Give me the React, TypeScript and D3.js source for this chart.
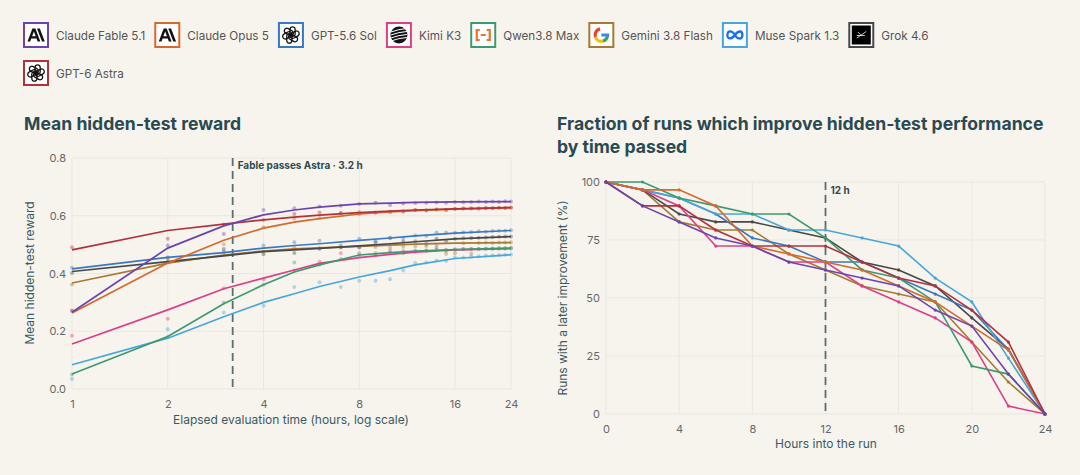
import * as d3 from "d3";
import { useEffect, useRef } from "react";

const W = 1080;
const H = 475;
const BG = "#f7f4ee";
const FONT = "Inter, 'Noto Sans', sans-serif";

const models = ["Claude Fable 5.1", "Claude Opus 5", "GPT-5.6 Sol", "Kimi K3", "Qwen3.8 Max", "Gemini 3.8 Flash", "Muse Spark 1.3", "Grok 4.6", "GPT-6 Astra"];
const colors = ["#6b44b0", "#d6692c", "#3b78c2", "#dd3f87", "#3d9a6e", "#a77a34", "#47a6dc", "#484848", "#b2323c"];
const logos = ["anthropic", "anthropic", "openai", "kimi", "qwen", "gemini", "meta", "grok", "openai"];

// left panel: fitted reward curve (sampled hours) + hourly observations
const fitHours = [1, 2, 3, 4, 5, 6, 8, 10, 12, 16, 24];
const fitFable = [0.266, 0.488, 0.565, 0.603, 0.62, 0.63, 0.641, 0.644, 0.646, 0.648, 0.649];
const fitOpus = [0.263, 0.436, 0.515, 0.557, 0.578, 0.59, 0.606, 0.613, 0.618, 0.623, 0.628];
const fitSol = [0.416, 0.456, 0.472, 0.488, 0.497, 0.503, 0.515, 0.523, 0.53, 0.54, 0.549];
const fitKimi = [0.156, 0.274, 0.347, 0.384, 0.412, 0.435, 0.455, 0.466, 0.474, 0.482, 0.486];
const fitQwen = [0.052, 0.182, 0.295, 0.361, 0.405, 0.43, 0.464, 0.472, 0.478, 0.483, 0.488];
const fitGemini = [0.367, 0.436, 0.464, 0.478, 0.485, 0.489, 0.494, 0.498, 0.502, 0.505, 0.507];
const fitMuse = [0.084, 0.176, 0.25, 0.3, 0.33, 0.355, 0.388, 0.41, 0.43, 0.452, 0.465];
const fitGrok = [0.407, 0.441, 0.461, 0.476, 0.482, 0.487, 0.496, 0.503, 0.51, 0.52, 0.528];
const fitAstra = [0.482, 0.549, 0.571, 0.586, 0.595, 0.602, 0.611, 0.616, 0.62, 0.624, 0.628];

const obsHours = d3.range(1, 25);
const obsFable = [0.27, 0.497, 0.537, 0.62, 0.626, 0.632, 0.635, 0.641, 0.645, 0.637, 0.642, 0.644, 0.645, 0.646, 0.645, 0.648, 0.647, 0.648, 0.649, 0.648, 0.649, 0.648, 0.65, 0.649];
const obsOpus = [0.272, 0.44, 0.501, 0.56, 0.59, 0.592, 0.608, 0.605, 0.61, 0.612, 0.615, 0.62, 0.619, 0.622, 0.621, 0.623, 0.625, 0.624, 0.626, 0.626, 0.627, 0.628, 0.627, 0.629];
const obsSol = [0.42, 0.452, 0.476, 0.497, 0.508, 0.513, 0.498, 0.52, 0.512, 0.525, 0.52, 0.532, 0.53, 0.542, 0.542, 0.541, 0.543, 0.544, 0.546, 0.545, 0.547, 0.548, 0.548, 0.55];
const obsKimi = [0.184, 0.243, 0.349, 0.38, 0.41, 0.441, 0.47, 0.47, 0.462, 0.48, 0.478, 0.475, 0.48, 0.49, 0.48, 0.482, 0.484, 0.484, 0.485, 0.485, 0.486, 0.486, 0.486, 0.487];
const obsQwen = [0.05, 0.18, 0.3, 0.361, 0.438, 0.43, 0.45, 0.462, 0.47, 0.472, 0.47, 0.48, 0.479, 0.482, 0.482, 0.484, 0.485, 0.486, 0.486, 0.487, 0.487, 0.488, 0.488, 0.489];
const obsGemini = [0.362, 0.44, 0.472, 0.475, 0.49, 0.488, 0.491, 0.49, 0.492, 0.49, 0.493, 0.494, 0.495, 0.5, 0.468, 0.47, 0.505, 0.468, 0.506, 0.507, 0.506, 0.507, 0.507, 0.508];
const obsMuse = [0.035, 0.207, 0.265, 0.288, 0.353, 0.37, 0.353, 0.375, 0.375, 0.38, 0.41, 0.436, 0.438, 0.445, 0.443, 0.455, 0.455, 0.458, 0.46, 0.462, 0.463, 0.464, 0.465, 0.466];
const obsGrok = [0.402, 0.455, 0.485, 0.467, 0.471, 0.486, 0.49, 0.492, 0.508, 0.522, 0.51, 0.512, 0.503, 0.52, 0.512, 0.52, 0.522, 0.523, 0.524, 0.525, 0.526, 0.527, 0.528, 0.528];
const obsAstra = [0.491, 0.52, 0.57, 0.585, 0.606, 0.611, 0.61, 0.612, 0.611, 0.614, 0.615, 0.62, 0.618, 0.622, 0.62, 0.624, 0.625, 0.626, 0.624, 0.627, 0.626, 0.628, 0.627, 0.628];

// right panel: % of runs that still improve later
const runHours = d3.range(0, 25, 2);
const runFable = [100, 89.7, 82.8, 75.9, 72.4, 65.5, 62.1, 58.6, 55.2, 44.8, 37.9, 17.2, 0];
const runOpus = [100, 96.6, 96.6, 89.7, 72.4, 69.0, 65.5, 62.1, 55.2, 48.3, 37.9, 27.6, 0];
const runSol = [100, 96.6, 93.1, 86.2, 75.9, 72.4, 65.5, 65.5, 58.6, 51.7, 44.8, 27.6, 0];
const runKimi = [100, 96.6, 89.7, 72.4, 72.4, 65.5, 65.5, 55.2, 48.3, 41.4, 31.0, 3.4, 0];
const runQwen = [100, 100, 93.1, 89.7, 86.2, 86.2, 75.9, 62.1, 58.6, 48.3, 20.7, 17.2, 0];
const runGemini = [100, 96.6, 82.8, 79.3, 79.3, 69.0, 62.1, 55.2, 51.7, 48.3, 31.0, 13.8, 0];
const runMuse = [100, 96.6, 93.1, 86.2, 86.2, 79.3, 79.3, 75.9, 72.4, 58.6, 48.3, 24.1, 0];
const runGrok = [100, 96.6, 86.2, 82.8, 82.8, 79.3, 75.9, 65.5, 62.1, 55.2, 41.4, 28.0, 0];
const runAstra = [100, 89.7, 89.7, 79.3, 72.4, 72.4, 72.4, 65.5, 58.6, 55.2, 44.8, 31.0, 0];

const fits = [fitFable, fitOpus, fitSol, fitKimi, fitQwen, fitGemini, fitMuse, fitGrok, fitAstra];
const obs = [obsFable, obsOpus, obsSol, obsKimi, obsQwen, obsGemini, obsMuse, obsGrok, obsAstra];
const runs = [runFable, runOpus, runSol, runKimi, runQwen, runGemini, runMuse, runGrok, runAstra];

// draw order (back to front)
const drawOrder = [5, 7, 2, 6, 3, 4, 1, 8, 0];

type G = d3.Selection<SVGGElement, unknown, null, undefined>;

function drawLogo(g: G, kind: string, color: string) {
  g.append("rect").attr("x", 1).attr("y", 1).attr("width", 24).attr("height", 24)
    .attr("fill", "#fff").attr("stroke", color).attr("stroke-width", 2);
  if (kind === "anthropic") {
    g.append("path")
      .attr("d", "M4.5,19.5 L9.4,6.5 L12.4,6.5 L17.3,19.5 L14.6,19.5 L13.5,16.5 L8.3,16.5 L7.2,19.5 Z M9.1,14.2 L12.7,14.2 L10.9,9.4 Z")
      .attr("fill-rule", "evenodd").attr("fill", "#111");
    g.append("path").attr("d", "M14,6.5 L16.8,6.5 L21.8,19.5 L19,19.5 Z").attr("fill", "#111");
  } else if (kind === "openai") {
    const c = g.append("g").attr("transform", "translate(13,13)");
    for (let i = 0; i < 6; i++) {
      c.append("rect").attr("x", -2.6).attr("y", -8.2).attr("width", 5.2).attr("height", 9.6).attr("rx", 2.6)
        .attr("transform", `rotate(${i * 60}) translate(1.6,0)`)
        .attr("fill", "none").attr("stroke", "#111").attr("stroke-width", 1.3);
    }
  } else if (kind === "kimi") {
    g.append("circle").attr("cx", 13).attr("cy", 13).attr("r", 8.5).attr("fill", "#111");
    [-4.5, -1.5, 1.5, 4.5].forEach((dy) => {
      g.append("path").attr("d", `M5,${13 + dy + 1.5} Q13,${13 + dy - 1.5} 21,${13 + dy - 2}`)
        .attr("fill", "none").attr("stroke", "#fff").attr("stroke-width", 1);
    });
  } else if (kind === "qwen") {
    g.append("path").attr("d", "M9.5,8 H6.5 V18 H9.5 M16.5,8 H19.5 V18 H16.5 M10.5,13 H15.5")
      .attr("fill", "none").attr("stroke", "#f0702a").attr("stroke-width", 2.2);
  } else if (kind === "gemini") {
    const arc = d3.arc<{ a0: number; a1: number }>().innerRadius(4.6).outerRadius(7.8)
      .startAngle((d) => d.a0).endAngle((d) => d.a1);
    const cg = g.append("g").attr("transform", "translate(13,13)");
    cg.append("path").attr("d", arc({ a0: -1.9, a1: -0.2 }) || "").attr("fill", "#ea4335");
    cg.append("path").attr("d", arc({ a0: -3.4, a1: -1.9 }) || "").attr("fill", "#fbbc05");
    cg.append("path").attr("d", arc({ a0: -4.6, a1: -3.4 }) || "").attr("fill", "#34a853");
    cg.append("path").attr("d", arc({ a0: -6.28 + 1.57, a1: -4.6 }) || "").attr("fill", "#4285f4");
    cg.append("rect").attr("x", 0).attr("y", -1.5).attr("width", 7.8).attr("height", 3).attr("fill", "#4285f4");
  } else if (kind === "meta") {
    g.append("path")
      .attr("d", "M13,13 C10.5,8.5 6,7.8 5.5,12.6 C5.2,17.5 9.5,17.8 13,13 C16.5,8.2 20.5,8.5 20.5,13 C20.5,17.8 15.5,17.5 13,13")
      .attr("fill", "none").attr("stroke", "#1a6ff0").attr("stroke-width", 2.3);
  } else if (kind === "grok") {
    g.append("rect").attr("x", 3.5).attr("y", 3.5).attr("width", 19).attr("height", 19).attr("fill", "#000");
    g.append("path").attr("d", "M8.5,16 L18,9.5 M9.5,10 L13.5,14 M8.5,13.5 L16.5,13.5")
      .attr("stroke", "#ddd").attr("stroke-width", 0.9);
  }
}

export default function App() {
  const ref = useRef<SVGSVGElement>(null);

  useEffect(() => {
    document.body.style.margin = "0";
    document.body.style.background = BG;
    const svg = d3.select(ref.current);
    svg.selectAll("*").remove();
    svg.append("rect").attr("width", W).attr("height", H).attr("fill", BG);

    // ---------- legend ----------
    const legend = svg.append("g").attr("font-family", FONT);
    let lx = 23;
    let ly = 22;
    models.forEach((m, i) => {
      const item = legend.append("g");
      const t = item.append("text").attr("x", 33).attr("y", 17.5).attr("font-size", 11.7).attr("fill", "#555").text(m);
      const tw = (t.node() as SVGTextElement).getComputedTextLength();
      const w = 33 + tw + 9;
      if (lx + w > 1000) {
        lx = 23;
        ly += 38;
      }
      item.attr("transform", `translate(${lx},${ly})`);
      drawLogo(item as unknown as G, logos[i], colors[i]);
      lx += w;
    });

    const titleColor = "#2a4a52";
    const labelColor = "#3c5a62";
    const tickColor = "#666";
    const gridColor = "#ebe7df";

    // ---------- left panel ----------
    const x1 = d3.scaleLog().domain([1, 24]).range([72, 511]);
    const y1 = d3.scaleLinear().domain([0, 0.8]).range([389, 158]);
    const L = svg.append("g").attr("font-family", FONT);

    L.append("text").attr("x", 24).attr("y", 130).attr("font-size", 17.6).attr("font-weight", 700)
      .attr("fill", titleColor).text("Mean hidden-test reward");

    const xt1 = [1, 2, 4, 8, 16, 24];
    const yt1 = [0, 0.2, 0.4, 0.6, 0.8];
    L.append("g").selectAll("line").data(xt1).join("line")
      .attr("x1", (d) => x1(d)).attr("x2", (d) => x1(d)).attr("y1", y1(0)).attr("y2", y1(0.8))
      .attr("stroke", gridColor);
    L.append("g").selectAll("line").data(yt1).join("line")
      .attr("x1", x1(1)).attr("x2", x1(24)).attr("y1", (d) => y1(d)).attr("y2", (d) => y1(d))
      .attr("stroke", gridColor);

    const axX1 = L.append("g").attr("transform", `translate(0,${y1(0)})`)
      .call(d3.axisBottom(x1).tickValues(xt1).tickFormat(d3.format("d")).tickSize(0).tickPadding(11));
    const axY1 = L.append("g").attr("transform", `translate(${x1(1)},0)`)
      .call(d3.axisLeft(y1).tickValues(yt1).tickFormat(d3.format(".1f")).tickSize(0).tickPadding(6));
    [axX1, axY1].forEach((a) => {
      a.select(".domain").remove();
      a.selectAll("text").attr("fill", tickColor).attr("font-size", 11).attr("font-family", FONT);
    });

    L.append("text").attr("x", 291).attr("y", 424).attr("text-anchor", "middle").attr("font-size", 12)
      .attr("fill", labelColor).text("Elapsed evaluation time (hours, log scale)");
    L.append("text").attr("transform", "translate(34,273) rotate(-90)").attr("text-anchor", "middle")
      .attr("font-size", 12).attr("fill", labelColor).text("Mean hidden-test reward");

    // crossover marker
    L.append("line").attr("x1", x1(3.2)).attr("x2", x1(3.2)).attr("y1", y1(0.8)).attr("y2", y1(0))
      .attr("stroke", "#5b6f72").attr("stroke-width", 1.8).attr("stroke-dasharray", "8,5");
    L.append("text").attr("x", x1(3.2) + 5).attr("y", 169).attr("font-size", 10).attr("font-weight", 700)
      .attr("fill", "#2f4a50").text("Fable passes Astra · 3.2 h");

    const line1 = d3.line<number>().x((_, i) => x1(fitHours[i])).y((d) => y1(d));
    drawOrder.forEach((k) => {
      L.append("g").selectAll("circle").data(obs[k]).join("circle")
        .attr("cx", (_, i) => x1(obsHours[i])).attr("cy", (d) => y1(d)).attr("r", 2)
        .attr("fill", colors[k]).attr("opacity", 0.4);
    });
    drawOrder.forEach((k) => {
      L.append("path").attr("d", line1(fits[k]) || "").attr("fill", "none")
        .attr("stroke", colors[k]).attr("stroke-width", 1.7);
    });

    // ---------- right panel ----------
    const x2 = d3.scaleLinear().domain([0, 24]).range([606, 1045]);
    const y2 = d3.scaleLinear().domain([0, 100]).range([414, 182]);
    const R = svg.append("g").attr("font-family", FONT);

    R.append("text").attr("x", 557).attr("y", 130).attr("font-size", 17.6).attr("font-weight", 700)
      .attr("fill", titleColor).text("Fraction of runs which improve hidden-test performance");
    R.append("text").attr("x", 557).attr("y", 153).attr("font-size", 17.6).attr("font-weight", 700)
      .attr("fill", titleColor).text("by time passed");

    const xt2 = d3.range(0, 25, 4);
    const yt2 = [0, 25, 50, 75, 100];
    R.append("g").selectAll("line").data(xt2).join("line")
      .attr("x1", (d) => x2(d)).attr("x2", (d) => x2(d)).attr("y1", y2(0)).attr("y2", y2(100))
      .attr("stroke", gridColor);
    R.append("g").selectAll("line").data(yt2).join("line")
      .attr("x1", x2(0)).attr("x2", x2(24)).attr("y1", (d) => y2(d)).attr("y2", (d) => y2(d))
      .attr("stroke", gridColor);

    const axX2 = R.append("g").attr("transform", `translate(0,${y2(0)})`)
      .call(d3.axisBottom(x2).tickValues(xt2).tickSize(0).tickPadding(11));
    const axY2 = R.append("g").attr("transform", `translate(${x2(0)},0)`)
      .call(d3.axisLeft(y2).tickValues(yt2).tickSize(0).tickPadding(6));
    [axX2, axY2].forEach((a) => {
      a.select(".domain").remove();
      a.selectAll("text").attr("fill", tickColor).attr("font-size", 11).attr("font-family", FONT);
    });

    R.append("text").attr("x", 826).attr("y", 448).attr("text-anchor", "middle").attr("font-size", 12)
      .attr("fill", labelColor).text("Hours into the run");
    R.append("text").attr("transform", "translate(567,298) rotate(-90)").attr("text-anchor", "middle")
      .attr("font-size", 12).attr("fill", labelColor).text("Runs with a later improvement (%)");

    R.append("line").attr("x1", x2(12)).attr("x2", x2(12)).attr("y1", y2(100)).attr("y2", y2(0))
      .attr("stroke", "#5b6f72").attr("stroke-width", 1.8).attr("stroke-dasharray", "8,5");
    R.append("text").attr("x", x2(12) + 5).attr("y", 194).attr("font-size", 10).attr("font-weight", 700)
      .attr("fill", "#2f4a50").text("12 h");

    const line2 = d3.line<number>().x((_, i) => x2(runHours[i])).y((d) => y2(d));
    drawOrder.forEach((k) => {
      R.append("path").attr("d", line2(runs[k]) || "").attr("fill", "none")
        .attr("stroke", colors[k]).attr("stroke-width", 1.6);
      R.append("g").selectAll("circle").data(runs[k]).join("circle")
        .attr("cx", (_, i) => x2(runHours[i])).attr("cy", (d) => y2(d)).attr("r", 1.6)
        .attr("fill", colors[k]);
    });
  }, []);

  return <svg ref={ref} width={W} height={H} style={{ position: "absolute", left: 0, top: 0, display: "block" }} />;
}
